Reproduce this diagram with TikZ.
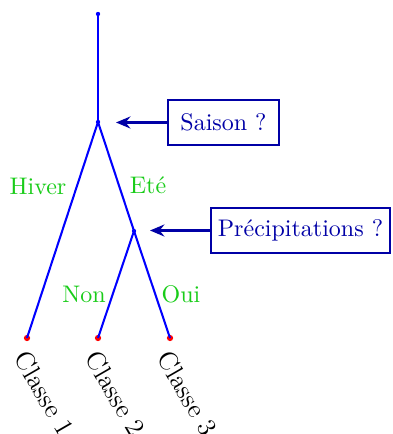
\documentclass[tikz,border=0pt]{standalone}
\usetikzlibrary{arrows.meta}
\definecolor{boxblue}{rgb}{0,0,0.65}
\definecolor{lblgreen}{rgb}{0.1,0.8,0.1}
\tikzset{
  branch/.style={blue, line width=0.85pt},
  qbox/.style={draw=boxblue, text=boxblue, line width=0.85pt, inner xsep=3pt, minimum height=18.75pt},
  qarrow/.style={boxblue, line width=1.3pt, -{Stealth[length=6pt,width=5pt,inset=2pt]}},
  lbl/.style={text=lblgreen},
  leafdot/.style={circle, fill=red, inner sep=0pt, minimum size=2.6pt},
  innerdot/.style={circle, fill=blue, inner sep=0pt, minimum size=1.8pt},
  cls/.style={rotate=-60, anchor=west, inner sep=0pt, font=\fontsize{11}{13}\selectfont}
}
\begin{document}
\begin{tikzpicture}[x=0.4167pt, y=-0.4167pt]
\useasboundingbox (0,0) rectangle (392,434);
\node[innerdot] (top) at (98,14) {};
\node[innerdot] (root) at (98,122) {};
\node[innerdot] (n2) at (134,231) {};
\node[leafdot] (l1) at (27,338) {};
\node[leafdot] (l2) at (98,338) {};
\node[leafdot] (l3) at (170,338) {};
\draw[branch] (top.center) -- (root.center);
\draw[branch] (root.center) -- (l1.center);
\draw[branch] (root.center) -- (n2.center);
\draw[branch] (n2.center) -- (l2.center);
\draw[branch] (n2.center) -- (l3.center);
\node[qbox, minimum width=46.25pt] (q1) at (223.5,122.5) {Saison ?};
\node[qbox] (q2) at (300.5,230.5) {Précipitations ?};
\coordinate (a1) at (116,122.5);
\coordinate (a2) at (150,230.5);
\draw[qarrow] (q1.west) -- (a1);
\draw[qarrow] (q2.west) -- (a2);
\node[lbl] (hiver) at (38,186) {Hiver};
\node[lbl] (ete) at (148,185) {Eté};
\node[lbl] (non) at (84,294) {Non};
\node[lbl] (oui) at (181,294) {Oui};
\node[cls] (c1) at (21,353) {Classe 1};
\node[cls] (c2) at (92,353) {Classe 2};
\node[cls] (c3) at (164,353) {Classe 3};
\end{tikzpicture}
\end{document}
